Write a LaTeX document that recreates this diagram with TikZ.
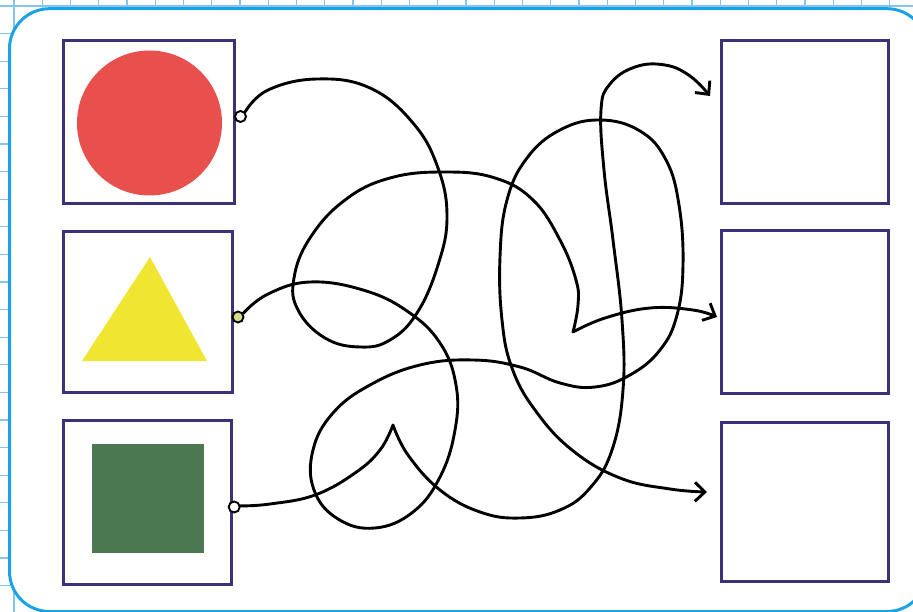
\documentclass[tikz,border=0pt]{standalone}
\usetikzlibrary{arrows.meta}
\definecolor{gridblue}{HTML}{86C6EE}
\definecolor{frameblue}{HTML}{1BA1E6}
\definecolor{boxpurple}{HTML}{3B3178}
\definecolor{shapered}{HTML}{E8504E}
\definecolor{shapeyellow}{HTML}{F0E632}
\definecolor{shapegreen}{HTML}{4B7850}
\definecolor{dotyellow}{HTML}{D9DC8C}
\begin{document}
\begin{tikzpicture}[x=1pt,y=-1pt,
  gridline/.style={draw=gridblue, line width=1.2pt},
  cardbox/.style={draw=boxpurple, line width=3pt, inner sep=0pt, anchor=north west, fill=white},
  startdot/.style={circle, draw=black, line width=1.9pt, fill=white, minimum size=11pt, inner sep=0pt},
  wire/.style={draw=black, line width=2.9pt, line cap=round, line join=round},
  tip/.style={-{Straight Barb[length=10pt,width=19pt]}},
  smoothy/.style={smooth, tension=0.7}
]
\useasboundingbox (0,0) rectangle (913,612);
\begin{scope}
  \clip (0,0) rectangle (913,612);
  \foreach \i in {0,...,32} \draw[gridline] ({14+28.25*\i},0) -- ({14+28.25*\i},612);
  \foreach \j in {0,...,22} \draw[gridline] (0,{6+27.6*\j}) -- (913,{6+27.6*\j});
  \draw[frameblue, line width=3pt, fill=white, rounded corners=40pt] (9.5,8.7) rectangle (927,611.5);
\end{scope}

% left boxes
\node[cardbox, minimum width=171pt, minimum height=163pt] (l1) at (62,39) {};
\node[cardbox, minimum width=169pt, minimum height=161pt] (l2) at (62,230) {};
\node[cardbox, minimum width=168pt, minimum height=164pt] (l3) at (62,419) {};
% right boxes
\node[cardbox, minimum width=167pt, minimum height=163pt] (r1) at (720,39) {};
\node[cardbox, minimum width=167pt, minimum height=163pt] (r2) at (720,229) {};
\node[cardbox, minimum width=167pt, minimum height=159pt] (r3) at (720,421) {};

% shapes
\node[circle, fill=shapered, minimum size=145pt, inner sep=0pt] (redc) at (149.5,123) {};
\fill[shapeyellow] (150,257) -- (82,361) -- (207,361) -- cycle;
\node[fill=shapegreen, minimum width=112pt, minimum height=109pt, inner sep=0pt, anchor=north west] (greensq) at (92,444) {};

% start dots
\node[startdot] (c1) at (240.5,116.5) {};
\node[startdot, fill=dotyellow] (c2) at (238,317) {};
\node[startdot] (c3) at (234.2,507) {};

% arrow ends
\coordinate (e1) at (717,317);
\coordinate (e2) at (707,492);
\coordinate (e3) at (710,96);

% curve 1: red -> middle right
\draw[wire, tip] plot[smoothy] coordinates {(c1.45) (268,90) (317,79) (370,88) (413,123) (438,168) (447,217) (438,265) (417,313) (390,340) (360,347) (325,338) (298,310) (294,278) (310,238) (345,200) (390,178) (445,172) (495,178) (533,200) (560,240) (576,280) (578,305) (573,332)}
  -- plot[smoothy] coordinates {(573,332) (605,318) (650,308) (693,310) (e1)};

% curve 2: yellow -> bottom right
\draw[wire, tip] plot[smoothy] coordinates {(c2.35) (268,294) (310,282) (363,290) (407,311) (440,343) (456,385) (455,430) (440,477) (413,512) (375,528) (338,519) (314,490) (313,450) (333,413) (370,385) (420,365) (473,360) (520,367) (560,383) (595,387) (630,375) (660,350) (677,315) (683,265) (679,205) (666,160) (640,131) (600,120) (560,130) (527,158) (507,200) (500,257) (502,320) (512,368) (535,410) (572,450) (620,478) (670,489) (e2)};

% curve 3: green -> top right
\draw[wire, tip] plot[smoothy] coordinates {(c3.10) (270,504) (315,495) (355,473) (380,450) (393,425)}
  -- plot[smoothy] coordinates {(393,425) (408,455) (440,490) (480,512) (520,518) (560,510) (590,488) (612,450) (623,390) (622,320) (613,240) (604,170) (601,110) (610,84) (635,67) (665,65) (690,76) (e3)};
\end{tikzpicture}
\end{document}
